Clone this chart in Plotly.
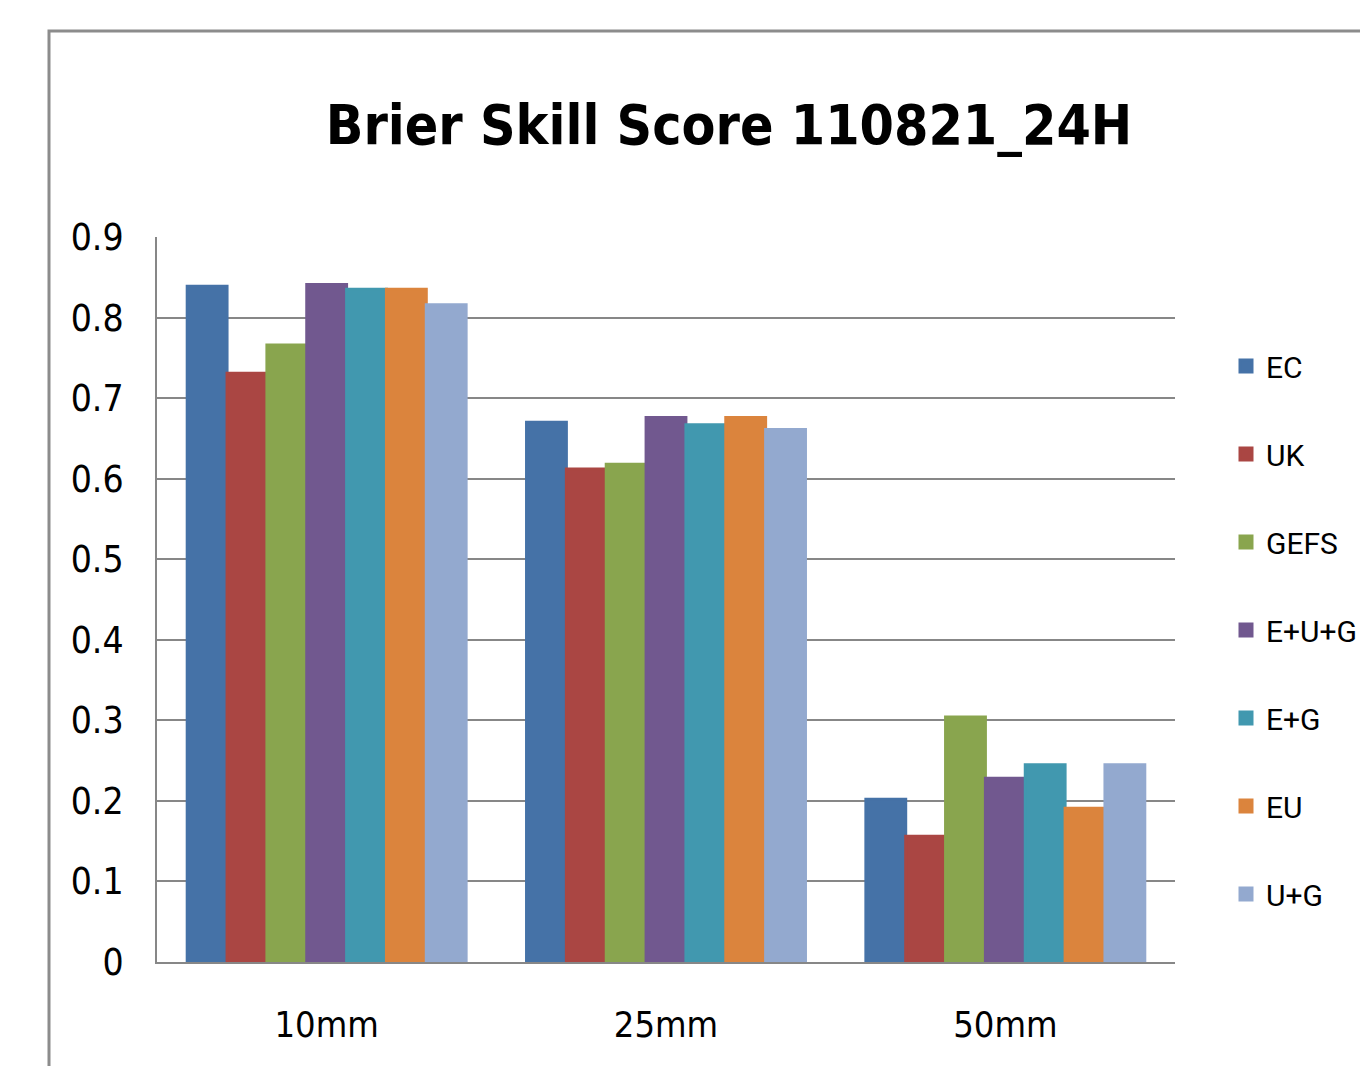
import plotly.graph_objects as go

categories = ["10mm", "25mm", "50mm"]
series_names = ["EC", "UK", "GEFS", "E+U+G", "E+G", "EU", "U+G"]
EC = [0.839, 0.670, 0.202]
UK = [0.731, 0.612, 0.156]
GEFS = [0.766, 0.618, 0.304]
EUG = [0.841, 0.676, 0.228]
EG = [0.835, 0.667, 0.245]
EU = [0.835, 0.676, 0.191]
UG = [0.816, 0.661, 0.245]
y_ticks = [0, 0.1, 0.2, 0.3, 0.4, 0.5, 0.6, 0.7, 0.8, 0.9]
y_tick_labels = ["0", "0.1", "0.2", "0.3", "0.4", "0.5", "0.6", "0.7", "0.8", "0.9"]

series_values = [EC, UK, GEFS, EUG, EG, EU, UG]
colors = ["#4572A7", "#AA4643", "#89A54E", "#71588F", "#4198AF", "#DB843D", "#93A9CF"]

FONT = "DejaVu Sans Condensed, DejaVu Sans, sans-serif"
LEGEND_FONT = "Roboto, DejaVu Sans Condensed, sans-serif"

fig = go.Figure()
for name, vals, col in zip(series_names, series_values, colors):
    fig.add_trace(go.Bar(
        name=name, x=categories, y=vals, legendgroup=name,
        marker=dict(color=col, line=dict(width=3, color=col)),
    ))

# page has an 8px body margin; figure coordinates are screen - 8
W, H = 1352, 1058
L, R, T, B = 149, 1167, 229, 954
pw, ph = R - L, B - T

fig.update_layout(
    width=W, height=H,
    margin=dict(l=L, r=W - R, t=T, b=H - B, pad=0, autoexpand=False),
    paper_bgcolor="white", plot_bgcolor="white",
    barmode="group", bargap=0.178, bargroupgap=0,
    font=dict(family=FONT, size=36, color="#000000"),
    title=dict(text="<b>Brier Skill Score 110821_24H</b>",
               font=dict(family=FONT, size=55, color="#000000"),
               x=721 / W, xanchor="center", y=1 - 117 / H, yanchor="middle"),
    showlegend=True,
    legend=dict(x=(1218 - L) / pw, xanchor="left", y=(B - 332) / ph, yanchor="top",
                font=dict(family=LEGEND_FONT, size=30), tracegroupgap=46,
                itemwidth=30, bgcolor="rgba(0,0,0,0)"),
    xaxis=dict(showgrid=False, showline=True, linecolor="#878787", linewidth=2,
               ticks="", tickfont=dict(size=36), ticklabelstandoff=30),
    yaxis=dict(range=[0, 0.9], tickvals=y_ticks, ticktext=y_tick_labels,
               showgrid=True, gridcolor="#878787", gridwidth=2,
               showline=True, linecolor="#878787", linewidth=2,
               zeroline=False, ticks="", tickfont=dict(size=37), ticklabelstandoff=24),
    shapes=[dict(type="rect", xref="paper", yref="paper",
                 x0=(41 - L) / pw, x1=(W + 20 - L) / pw,
                 y0=(B - (H + 20)) / ph, y1=(B - 23) / ph,
                 line=dict(color="#8c8c8c", width=3), fillcolor="rgba(0,0,0,0)", layer="below")],
)

fig.write_html("out.html")
